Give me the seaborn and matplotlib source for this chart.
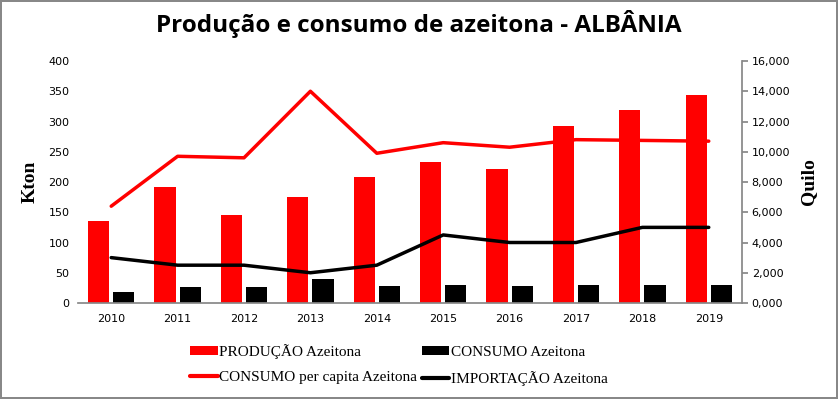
import numpy as np
import pandas as pd
import matplotlib
matplotlib.use('Agg')
import matplotlib.pyplot as plt
import seaborn as sns
from matplotlib.patches import Patch
from matplotlib.lines import Line2D
from matplotlib.ticker import FuncFormatter

years = ['2010', '2011', '2012', '2013', '2014', '2015', '2016', '2017', '2018', '2019']
producao = [136, 192, 145, 175, 208, 233, 221, 292, 319, 344]
consumo = [18, 26, 26, 40, 28, 30, 28, 30, 30, 30]
consumo_per_capita = [6400, 9700, 9600, 14000, 9900, 10600, 10300, 10800, 10750, 10700]
importacao = [3000, 2500, 2500, 2000, 2500, 4500, 4000, 4000, 5000, 5000]

label_prod = 'PRODUÇÃO Azeitona'
label_cons = 'CONSUMO Azeitona'
label_pc = 'CONSUMO per capita Azeitona'
label_imp = 'IMPORTAÇÃO Azeitona'

sns.set_theme(style='white')
plt.rcParams['font.family'] = ['DejaVu Sans']
plt.rcParams.update({'text.color': 'black', 'axes.labelcolor': 'black',
                     'xtick.color': 'black', 'ytick.color': 'black'})

bars = pd.DataFrame({
    'ano': years * 2,
    'valor': producao + consumo,
    'serie': [label_prod] * len(years) + [label_cons] * len(years),
})

fig = plt.figure(figsize=(8.38, 3.99), dpi=100)
fig.patch.set_edgecolor('#888888')
fig.patch.set_linewidth(1.5)
ax = fig.add_axes([0.0931, 0.2406, 0.7923, 0.6065])

sns.barplot(data=bars, x='ano', y='valor', hue='serie', order=years,
            palette=['#FF0000', '#000000'], width=0.76, gap=0.16,
            saturation=1, errorbar=None, legend=False, linewidth=0, ax=ax)
ax.set_ylim(0, 400)
ax.set_yticks(range(0, 401, 50))
ax.set_xlabel('')
ax.set_ylabel('Kton', family='Liberation Serif', fontsize=14, fontweight='bold',
              labelpad=7)
ax.tick_params(axis='both', labelsize=8, length=0, pad=6)
ax.tick_params(axis='x', pad=8)
for side in ['top', 'left', 'right']:
    ax.spines[side].set_visible(False)
ax.spines['bottom'].set_color('#888888')

ax2 = ax.twinx()
sns.pointplot(x=years, y=consumo_per_capita, order=years, color='#FF0000',
              markers='', linestyles='-', errorbar=None, lw=2.5, ax=ax2)
sns.pointplot(x=years, y=importacao, order=years, color='#000000',
              markers='', linestyles='-', errorbar=None, lw=2.5, ax=ax2)
ax2.set_ylim(0, 16000)
ax2.set_yticks(range(0, 16001, 2000))
ax2.yaxis.set_major_formatter(FuncFormatter(lambda v, p: f'{v / 1000:.3f}'.replace('.', ',')))
ax2.set_ylabel('Quilo', family='Liberation Serif', fontsize=14, fontweight='bold',
               labelpad=7)
ax2.tick_params(axis='y', labelsize=8, length=4, color='#888888', pad=3, right=True)
for side in ['top', 'left', 'bottom']:
    ax2.spines[side].set_visible(False)
ax2.spines['right'].set_color('#888888')
ax.set_xlim(-0.5, len(years) - 0.5)

fig.suptitle('Produção e consumo de azeitona - ALBÂNIA', family='Open Sans',
             fontweight='bold', fontsize=17.5, color='black', y=0.975)

handles = [
    Patch(facecolor='#FF0000', edgecolor='none', label=label_prod),
    Line2D([], [], color='#FF0000', lw=3, label=label_pc),
    Patch(facecolor='#000000', edgecolor='none', label=label_cons),
    Line2D([], [], color='#000000', lw=3, label=label_imp),
]
fig.legend(handles=handles, loc='center', bbox_to_anchor=(0.476, 0.085), ncol=2,
           frameon=False, prop={'family': 'Liberation Serif', 'size': 11},
           handlelength=1.8, handleheight=0.5, handletextpad=0.1,
           columnspacing=0.3, labelspacing=0.8)

fig.savefig('out.png', dpi=100)
